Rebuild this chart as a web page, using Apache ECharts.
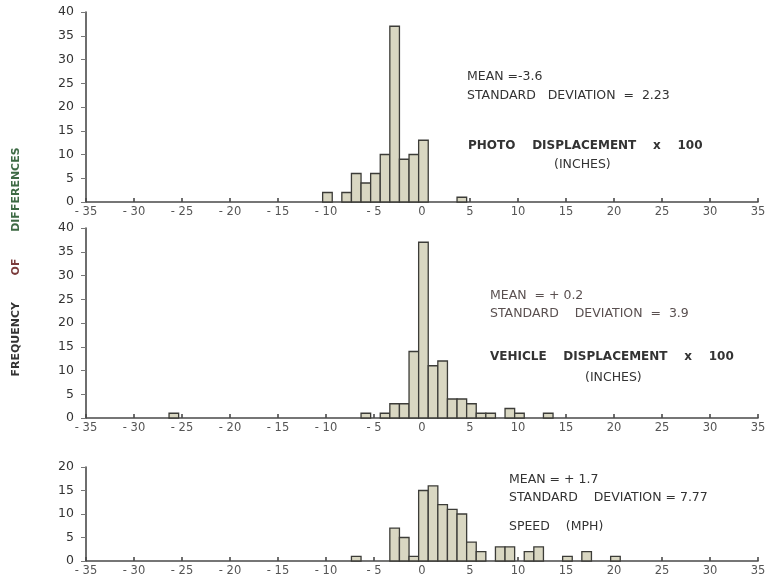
<!DOCTYPE html>
<html><head><meta charset="utf-8">
<script src="https://cdn.jsdelivr.net/npm/echarts@6/dist/echarts.min.js"></script>
<style>html,body{margin:0;padding:0;background:#fff}#c{width:770px;height:583px}</style>
</head><body><div id="c"></div>
<script>
// Histogram bins (difference value) and frequencies
const photoBins   = [-10, -8, -7, -6, -5, -4, -3, -2, -1, 0, 4];
const photoFreq   = [2, 2, 6, 4, 6, 10, 37, 9, 10, 13, 1];
const vehicleBins = [-26, -6, -4, -3, -2, -1, 0, 1, 2, 3, 4, 5, 6, 7, 9, 10, 13];
const vehicleFreq = [1, 1, 1, 3, 3, 14, 37, 11, 12, 4, 4, 3, 1, 1, 2, 1, 1];
const speedBins   = [-7, -3, -2, -1, 0, 1, 2, 3, 4, 5, 6, 8, 9, 11, 12, 15, 17, 20];
const speedFreq   = [1, 7, 5, 1, 15, 16, 12, 11, 10, 4, 2, 3, 3, 2, 3, 1, 2, 1];
const xTicks = [-35, -30, -25, -20, -15, -10, -5, 0, 5, 10, 15, 20, 25, 30, 35];
const yMaxTop = 40, yMaxMid = 40, yMaxBot = 20;

const binOffset = 0.15;
const chart = echarts.init(document.getElementById('c'), null, {renderer: 'canvas'});

function renderItem(params, api) {
  const x = api.value(0) + binOffset, y = api.value(1);
  const p0 = api.coord([x - 0.5, 0]);
  const p1 = api.coord([x + 0.5, y]);
  return {
    type: 'rect',
    shape: {x: p0[0], y: p1[1], width: p1[0] - p0[0], height: p0[1] - p1[1]},
    style: {fill: '#d9d7c2', stroke: '#3c3c38', lineWidth: 1.3}
  };
}
const pairs = (b, f) => b.map((v, i) => [v, f[i]]);

const FONT = '"DejaVu Sans", Verdana, sans-serif';
const grids = [
  {left: 86, right: 12, top: 12, height: 190},
  {left: 86, right: 12, top: 228, height: 190},
  {left: 86, right: 12, top: 467, height: 94}
];
const axisLineStyle = {color: '#4a4a4a', width: 1.6};
const xAxes = grids.map((g, i) => ({
  type: 'value', gridIndex: i, min: -35, max: 35, interval: 5,
  axisLine: {show: true, onZero: false, lineStyle: axisLineStyle},
  axisTick: {show: true, inside: true, length: 4, lineStyle: axisLineStyle},
  axisLabel: {color: '#555', fontSize: 11.5, margin: 4, fontFamily: FONT,
    formatter: v => xTicks.includes(v) ? String(v).replace('-', '- ') : ''},
  splitLine: {show: false}
}));
const yMaxes = [yMaxTop, yMaxMid, yMaxBot];
const yAxes = grids.map((g, i) => ({
  type: 'value', gridIndex: i, min: 0, max: yMaxes[i], interval: 5,
  axisLine: {show: true, onZero: false, lineStyle: axisLineStyle},
  axisTick: {show: true, length: 5, lineStyle: {color: '#777', width: 1}},
  axisLabel: {color: '#333', fontSize: 12.5, margin: 12, fontFamily: FONT},
  splitLine: {show: false}
}));

const txt = (left, top, text, opts) => ({
  type: 'text', left, top,
  style: Object.assign({text, fill: '#333', font: '12.5px ' + FONT}, opts || {})
});
const bold = 'bold 12px ' + FONT;

chart.setOption({
  animation: false,
  grid: grids,
  xAxis: xAxes,
  yAxis: yAxes,
  series: [
    {type: 'custom', xAxisIndex: 0, yAxisIndex: 0, renderItem, data: pairs(photoBins, photoFreq)},
    {type: 'custom', xAxisIndex: 1, yAxisIndex: 1, renderItem, data: pairs(vehicleBins, vehicleFreq)},
    {type: 'custom', xAxisIndex: 2, yAxisIndex: 2, renderItem, data: pairs(speedBins, speedFreq)}
  ],
  graphic: [
    txt(467, 70, 'MEAN =-3.6'),
    txt(467, 89, 'STANDARD   DEVIATION  =  2.23'),
    txt(468, 140, 'PHOTO    DISPLACEMENT    x    100', {font: bold}),
    txt(554, 158, '(INCHES)'),
    txt(490, 289, 'MEAN  = + 0.2', {fill: '#5a5050'}),
    txt(490, 307, 'STANDARD    DEVIATION  =  3.9', {fill: '#5a5050'}),
    txt(490, 351, 'VEHICLE    DISPLACEMENT    x    100', {font: bold}),
    txt(585, 371, '(INCHES)'),
    txt(509, 473, 'MEAN = + 1.7'),
    txt(509, 491, 'STANDARD    DEVIATION = 7.77'),
    txt(509, 520, 'SPEED    (MPH)'),
    {
      type: 'text', x: 16, y: 262, rotation: Math.PI / 2,
      style: {
        text: '{a|FREQUENCY}        {b|OF}        {c|DIFFERENCES}',
        align: 'center', verticalAlign: 'middle',
        rich: {
          a: {fill: '#333', font: 'bold 11px ' + FONT},
          b: {fill: '#7a3a3a', font: 'bold 11px ' + FONT},
          c: {fill: '#3d6a44', font: 'bold 11px ' + FONT}
        }
      }
    }
  ]
});
</script></body></html>
